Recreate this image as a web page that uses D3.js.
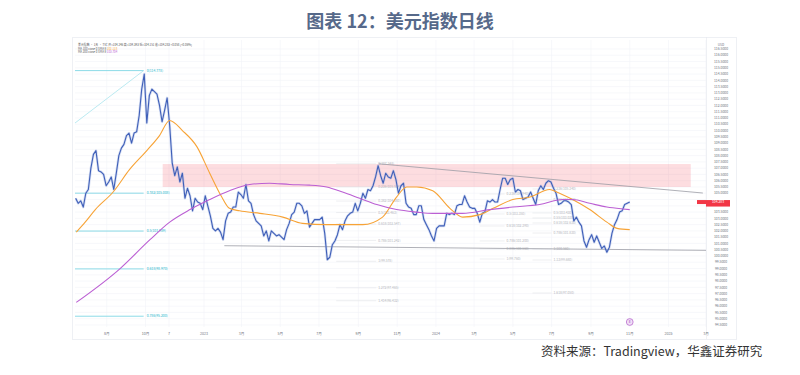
<!DOCTYPE html>
<html>
<head>
<meta charset="utf-8">
<script src="https://cdn.jsdelivr.net/npm/d3@7"></script>
<style>
  body { margin: 0; background: #fff; }
  svg { display: block; font-family: "Noto Sans CJK SC", "Noto Sans", sans-serif; }
</style>
</head>
<body>
<svg id="chart" width="800" height="375"></svg>
<script>
// ---- data ----
const titleText = "图表 12：美元指数日线";
const sourceText = "资料来源：Tradingview，华鑫证券研究";

// DXY closes, one every 4 calendar days starting 2022-06-13
const seriesStart = "2022-06-13";
const stepDays = 4;
const closes = [
  104.6, 104.2, 104.4, 103.9, 105.0,
  105.3, 107.0, 108.1, 108.4, 106.8, 106.7, 106.5, 105.6,
  105.9, 106.3, 105.3, 106.6, 108.0, 108.6, 108.9,
  109.6, 109.8, 109.0, 109.8, 109.9, 111.2, 113.3, 114.5,
  110.6, 112.8, 113.3, 113.1, 112.9, 112.0, 110.7, 111.6,
  112.6, 110.4, 107.4, 106.4, 107.1, 105.9, 106.6,
  104.6, 105.4, 104.8, 103.6, 104.6, 104.3, 104.2, 103.7,
  104.8, 104.0, 103.2, 102.2, 102.0, 102.2, 101.9, 101.3,
  102.8, 103.4, 103.5, 103.9, 103.9, 105.1, 104.9,
  104.6, 105.7, 104.4, 104.2, 103.3, 102.8, 102.6,
  102.4, 101.6, 102.0, 101.2, 102.0, 101.8, 101.6, 101.7,
  101.5, 101.3, 102.1, 102.6, 103.3, 103.5, 104.2, 104.2,
  104.0, 103.4, 103.6, 102.3, 102.6, 102.9, 102.9,
  102.9, 103.1, 101.8, 99.7, 99.9, 100.9, 101.2, 101.7,
  102.5, 102.1, 102.8, 103.2, 103.4, 103.5, 104.2, 103.6,
  104.2, 105.0, 104.6, 105.3, 105.2, 105.6, 106.3,
  107.2, 106.4, 105.8, 106.6, 106.3, 106.2, 106.8, 106.1,
  105.0, 105.6, 105.8, 104.2, 103.9, 103.8, 103.3,
  103.3, 104.0, 104.0, 102.9, 102.5, 102.1, 101.6, 101.2,
  102.2, 102.4, 102.4, 102.4, 103.4, 103.3, 103.4, 103.3,
  104.0, 104.1, 104.1, 104.8, 104.3, 103.9, 103.8,
  103.8, 103.4, 102.7, 103.4, 103.5, 104.4, 104.3, 104.5,
  104.3, 104.3, 105.3, 106.2, 106.2, 105.7, 106.1,
  106.2, 105.1, 105.3, 105.2, 104.5, 104.6, 104.7, 105.1,
  104.6, 104.1, 105.2, 105.6, 105.3, 105.8, 106.0, 105.9,
  105.4, 105.0, 104.1, 104.2, 104.4, 104.4, 104.3,
  104.1, 102.8, 103.1, 102.7, 102.4, 101.2, 100.7, 101.3,
  101.7, 101.1, 101.6, 101.1, 100.6, 100.8, 100.3, 100.7,
  101.8, 102.5, 102.9, 103.5, 103.6, 104.1, 104.2,
  104.3
];

// orange moving average
const maFastDates = ["2022-06-14","2022-06-28","2022-07-14","2022-08-11","2022-09-06","2022-10-03","2022-10-23",
  "2022-11-08","2022-11-28","2022-12-21","2023-01-10","2023-01-29","2023-02-10","2023-02-26","2023-03-30",
  "2023-05-05","2023-06-05","2023-07-13","2023-08-18","2023-09-08","2023-10-09","2023-10-31","2023-11-16",
  "2023-12-02","2023-12-27","2024-01-23","2024-02-12","2024-03-10","2024-03-31","2024-05-01","2024-05-28",
  "2024-06-28","2024-07-09","2024-08-03","2024-08-30","2024-09-26","2024-10-12","2024-11-01"];
const maFastValues = [101.9, 102.7, 103.7, 105.1, 106.9, 108.4, 109.6,
  110.8, 110.0, 108.7, 106.6, 104.7, 103.8, 103.6, 103.4,
  103.1, 102.6, 102.5, 102.5, 102.5, 103.1, 104.7, 105.5,
  105.5, 105.2, 103.8, 103.1, 103.3, 103.8, 104.5, 104.7,
  105.3, 105.1, 104.5, 103.7, 102.7, 102.2, 102.1];

// purple moving average
const maSlowDates = ["2022-06-14","2022-08-22","2022-10-08","2022-11-08","2022-12-10","2023-01-10","2023-02-10",
  "2023-03-14","2023-04-14","2023-05-16","2023-06-16","2023-07-13","2023-08-07","2023-09-03","2023-09-30",
  "2023-10-31","2023-12-02","2023-12-27","2024-02-12","2024-03-26","2024-05-01","2024-06-12","2024-07-18",
  "2024-08-03","2024-08-30","2024-09-26","2024-10-21","2024-11-01"];
const maSlowValues = [96.3, 99.0, 101.3, 102.7, 103.7, 104.5, 105.2,
  105.7, 105.8, 105.7, 105.65, 105.5, 105.1, 104.6, 104.1,
  103.7, 103.5, 103.4, 103.4, 103.7, 103.9, 104.1, 104.5,
  104.5, 104.2, 103.9, 103.75, 103.7];

// cyan fibonacci (long term)
const fibCyanRatios = ["0", "0.382", "0.5", "0.618", "0.786"];
const fibCyanValues = [114.778, 105.008, 101.989, 98.970, 95.200];
const fibCyanSpan = ["2022-06-12", "2022-09-28"];
const fibCyanDiagonal = [["2022-06-12", 110.6], ["2022-09-28", 114.778]];

// grey fibonacci sets
const fibGreyA = { span: ["2023-07-28", "2023-09-29"],
  ratios: ["0", "0.236", "0.382", "0.5", "0.618", "0.786", "1", "1.272", "1.414"],
  values: [107.348, 105.514, 104.380, 103.463, 102.547, 101.242, 99.578, 97.465, 96.432] };
const fibGreyB = { span: ["2024-03-10", "2024-04-18"],
  ratios: ["0.236", "0.5", "0.618", "0.786", "0.886", "1"],
  values: [104.940, 103.350, 102.390, 101.200, 100.560, 99.760] };
const fibGreyC = { span: ["2024-06-01", "2024-07-01"],
  ratios: ["0.236", "0.382", "0.5", "0.55", "0.618", "0.786", "1", "1.13", "1.618"],
  values: [105.340, 104.460, 103.430, 103.030, 102.630, 101.830, 100.560, 99.680, 97.050] };

// zone and trend lines
const zoneDates = ["2022-10-28", "2025-02-05"];
const zoneValues = [105.5, 107.33];
const resistanceLine = [["2023-10-03", 107.35], ["2025-02-24", 105.02]];
const supportLine = [["2023-02-02", 100.82], ["2025-03-01", 100.45]];

// axes
const xTickDates = ["2022-08-01","2022-10-01","2022-11-07","2023-01-01","2023-03-01","2023-05-01","2023-07-01",
  "2023-09-01","2023-11-01","2024-01-01","2024-03-01","2024-05-01","2024-07-01","2024-09-01","2024-11-01",
  "2025-01-01","2025-03-01"];
const xTickLabels = ["8月","10月","7","2023","3月","5月","7月","9月","11月","2024","3月","5月","7月","9月","11月","2025","3月"];
const yTicks = [116.5, 116.0, 115.5, 115.0, 114.5, 114.0, 113.5, 113.0, 112.5, 112.0, 111.5, 111.0,
  110.5, 110.0, 109.5, 109.0, 108.5, 108.0, 107.5, 107.0, 106.5, 106.0, 105.5, 105.0, 104.5, 104.0,
  103.5, 103.0, 102.5, 102.0, 101.5, 101.0, 100.5, 100.0, 99.5, 99.0, 98.5, 98.0, 97.5, 97.0, 96.5,
  96.0, 95.5, 95.0, 94.5];

const legendRows = [
  ["美元指数 · 1天 · TVC  开=104.246 高=104.393 低=104.151 收=104.283 +0.058 (+0.06%)", "#2962ff"],
  ["MA 100 close 0 SMA 9  ", "#f7a336", "102.118"],
  ["MA 200 close 0 SMA 9  ", "#bb5fd3", "103.704"]
];
const lastPriceLabel = "104.283";

// ---- drawing ----
const svg = d3.select("#chart");
const parse = d3.utcParse("%Y-%m-%d");
const plot = { left: 75, right: 706, top: 40, bottom: 327 };

const x = d3.scaleUtc()
  .domain([parse("2022-06-12"), parse("2025-03-01")])
  .range([plot.left, plot.right]);
const y = d3.scaleLinear().domain([94.5, 116.5]).range([325, 49]);

const price = closes.map((v, i) => ({ date: d3.utcDay.offset(parse(seriesStart), i * stepDays), v }));
const maFast = maFastDates.map((d, i) => ({ date: parse(d), v: maFastValues[i] }));
const maSlow = maSlowDates.map((d, i) => ({ date: parse(d), v: maSlowValues[i] }));

svg.append("text")
  .attr("x", 400).attr("y", 28)
  .attr("text-anchor", "middle")
  .attr("font-size", 18).attr("font-weight", 700)
  .attr("fill", "#56698a")
  .text(titleText);

// screenshot frame
svg.append("rect")
  .attr("x", 72.5).attr("y", 37.5).attr("width", 664).attr("height", 302)
  .attr("fill", "#fff").attr("stroke", "#eef0f4");

svg.append("defs").append("clipPath").attr("id", "plot-clip")
  .append("rect")
  .attr("x", plot.left).attr("y", plot.top)
  .attr("width", plot.right - plot.left).attr("height", plot.bottom - plot.top);

// grid
const grid = svg.append("g").attr("stroke", "#f1f3f8").attr("stroke-width", 0.6);
grid.selectAll(".gy").data(yTicks).join("line")
  .attr("x1", plot.left).attr("x2", plot.right)
  .attr("y1", d => y(d)).attr("y2", d => y(d));
grid.selectAll(".gx").data(xTickDates).join("line")
  .attr("x1", d => x(parse(d))).attr("x2", d => x(parse(d)))
  .attr("y1", plot.top).attr("y2", plot.bottom);

svg.append("line")
  .attr("x1", plot.right + 0.5).attr("x2", plot.right + 0.5)
  .attr("y1", plot.top - 3).attr("y2", plot.bottom + 12)
  .attr("stroke", "#e6e8ee").attr("stroke-width", 0.6);

const layer = svg.append("g").attr("clip-path", "url(#plot-clip)");

// pink zone
layer.append("rect")
  .attr("x", x(parse(zoneDates[0])))
  .attr("width", x(parse(zoneDates[1])) - x(parse(zoneDates[0])))
  .attr("y", y(zoneValues[1]))
  .attr("height", y(zoneValues[0]) - y(zoneValues[1]))
  .attr("fill", "#f23645").attr("fill-opacity", 0.17);

// cyan fib
const cyanG = layer.append("g");
cyanG.selectAll("line").data(fibCyanValues).join("line")
  .attr("x1", x(parse(fibCyanSpan[0]))).attr("x2", x(parse(fibCyanSpan[1])))
  .attr("y1", d => y(d)).attr("y2", d => y(d))
  .attr("stroke", "#7fd6e4").attr("stroke-width", 0.9);
cyanG.append("line")
  .attr("x1", x(parse(fibCyanDiagonal[0][0]))).attr("y1", y(fibCyanDiagonal[0][1]))
  .attr("x2", x(parse(fibCyanDiagonal[1][0]))).attr("y2", y(fibCyanDiagonal[1][1]))
  .attr("stroke", "#a9e4ee").attr("stroke-width", 0.8);
cyanG.selectAll("text").data(fibCyanValues).join("text")
  .attr("x", x(parse(fibCyanSpan[1])) + 3).attr("y", d => y(d) + 1.2)
  .attr("font-size", 3.4).attr("fill", "#26b6cc")
  .text((d, i) => `${fibCyanRatios[i]}(${d.toFixed(3)})`);

// grey fib sets
function drawGreyFib(set) {
  const g = layer.append("g");
  const x0 = x(parse(set.span[0])), x1 = x(parse(set.span[1]));
  g.selectAll("line").data(set.values).join("line")
    .attr("x1", x0).attr("x2", x1)
    .attr("y1", d => y(d)).attr("y2", d => y(d))
    .attr("stroke", "#e3e4e8").attr("stroke-width", 0.6);
  g.selectAll("text").data(set.values).join("text")
    .attr("x", x1 + 2).attr("y", d => y(d) + 1.2)
    .attr("font-size", 3.3).attr("fill", "#b3b5bb")
    .text((d, i) => `${set.ratios[i]}(${d.toFixed(3)})`);
}
drawGreyFib(fibGreyA);
drawGreyFib(fibGreyB);
drawGreyFib(fibGreyC);

// trend lines
[resistanceLine, supportLine].forEach(seg => {
  layer.append("line")
    .attr("x1", x(parse(seg[0][0]))).attr("y1", y(seg[0][1]))
    .attr("x2", x(parse(seg[1][0]))).attr("y2", y(seg[1][1]))
    .attr("stroke", "#9a9ca4").attr("stroke-width", 0.8);
});

// price
const priceLine = d3.line().x(d => x(d.date)).y(d => y(d.v));
layer.append("path").datum(price)
  .attr("d", priceLine)
  .attr("fill", "none").attr("stroke", "#9aaee0").attr("stroke-width", 2.6)
  .attr("stroke-opacity", 0.4).attr("stroke-linejoin", "round");
layer.append("path").datum(price)
  .attr("d", priceLine)
  .attr("fill", "none").attr("stroke", "#3f5fb8").attr("stroke-width", 1.1)
  .attr("stroke-linejoin", "round");

// moving averages
const maLine = d3.line().x(d => x(d.date)).y(d => y(d.v)).curve(d3.curveMonotoneX);
layer.append("path").datum(maFast)
  .attr("d", maLine).attr("fill", "none")
  .attr("stroke", "#f7a336").attr("stroke-width", 1.1);
layer.append("path").datum(maSlow)
  .attr("d", maLine).attr("fill", "none")
  .attr("stroke", "#bb5fd3").attr("stroke-width", 1.1);

// legend
const legendText = svg.append("g").selectAll("text").data(legendRows).join("text")
  .attr("x", 78).attr("y", (d, i) => 46 + i * 3.7)
  .attr("font-size", 2.9).attr("fill", "#555");
legendText.append("tspan").text(d => d[0]);
legendText.append("tspan").attr("fill", d => d[1]).text(d => d[2] || "");

// right axis (the last price tag covers the tick under it)
const lastValue = closes[closes.length - 1];
const lastY = y(lastValue);
svg.append("g").selectAll("text")
  .data(yTicks.filter(d => Math.abs(y(d) - lastY) > 4))
  .join("text")
  .attr("x", 721).attr("y", d => y(d) + 1.2)
  .attr("text-anchor", "middle")
  .attr("font-size", 3.4).attr("fill", "#6f737d")
  .text(d => d.toFixed(4));
svg.append("text")
  .attr("x", 721).attr("y", 45.5).attr("text-anchor", "middle")
  .attr("font-size", 3.2).attr("fill", "#6f737d").text("USD");

// last price tag
svg.append("rect")
  .attr("x", 697).attr("y", lastY - 2).attr("width", 9).attr("height", 4)
  .attr("fill", "#f23645");
svg.append("rect")
  .attr("x", 706).attr("y", lastY - 2).attr("width", 24).attr("height", 6.5)
  .attr("fill", "#f23645");
svg.append("text")
  .attr("x", 718).attr("y", lastY + 1.4).attr("text-anchor", "middle")
  .attr("font-size", 3.4).attr("fill", "#fff").text(lastPriceLabel);

// bottom axis
svg.append("g").selectAll("text").data(xTickDates).join("text")
  .attr("x", d => x(parse(d))).attr("y", 334.5)
  .attr("text-anchor", "middle")
  .attr("font-size", 3.6).attr("fill", "#6f737d")
  .text((d, i) => xTickLabels[i]);

// event marker
svg.append("circle")
  .attr("cx", x(parse("2024-11-01"))).attr("cy", 322).attr("r", 3.4)
  .attr("fill", "#f1e0f6").attr("stroke", "#b25bc9").attr("stroke-width", 0.7);
svg.append("text")
  .attr("x", x(parse("2024-11-01"))).attr("y", 323.3).attr("text-anchor", "middle")
  .attr("font-size", 3.6).attr("fill", "#9c3fb8").text("E");

// source
svg.append("text")
  .attr("x", 541).attr("y", 356)
  .attr("font-size", 12.5).attr("fill", "#333")
  .text(sourceText);
</script>
</body>
</html>
